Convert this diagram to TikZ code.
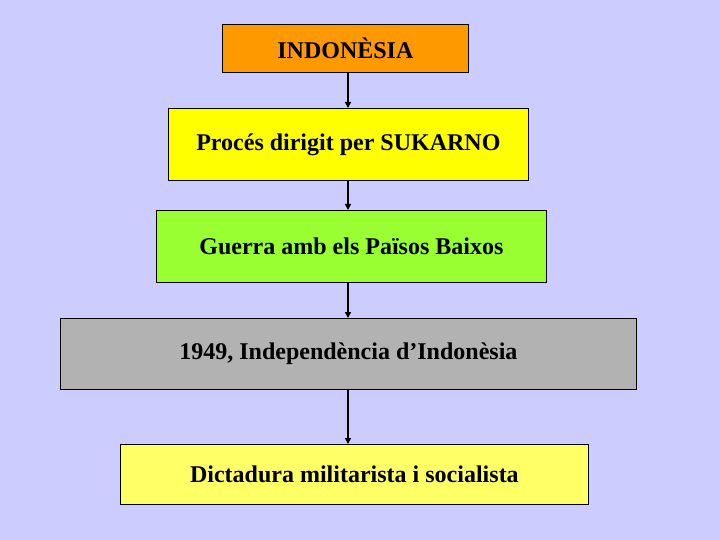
\documentclass[tikz,border=0pt]{standalone}
\usepackage{fontspec}
\setmainfont{Liberation Serif}
\usetikzlibrary{arrows.meta}
\definecolor{bgc}{HTML}{CCCCFF}
\definecolor{c1}{HTML}{FF9900}
\definecolor{c2}{HTML}{FFFF00}
\definecolor{c3}{HTML}{99FF33}
\definecolor{c4}{HTML}{B2B2B2}
\definecolor{c5}{HTML}{FFFF66}
\tikzset{
  boxn/.style={draw=black, line width=0.8pt, inner sep=0pt, anchor=north west,
    font=\fontsize{24}{28}\selectfont\bfseries},
  arr/.style={draw=black, line width=1.5pt, -{Triangle[length=6pt,width=6pt]}}
}
\begin{document}
\begin{tikzpicture}[x=1pt,y=-1pt]
\fill[bgc] (0,0) rectangle (720,540);
\useasboundingbox (0,0) rectangle (720,540);
\coordinate (ax) at (348,0);
\node[boxn, fill=c1, minimum width=246pt, minimum height=48pt] (n1) at (222,24) {INDONÈSIA};
\node[boxn, fill=c2, minimum width=360pt, minimum height=72pt] (n2) at (168,108) {Procés dirigit per SUKARNO};
\node[boxn, fill=c3, minimum width=390pt, minimum height=72pt] (n3) at (156,210) {Guerra amb els Països Baixos};
\node[boxn, fill=c4, minimum width=576pt, minimum height=71pt] (n4) at (60,318) {1949, Independència d’Indonèsia};
\node[boxn, fill=c5, minimum width=468pt, minimum height=60pt] (n5) at (120,444) {Dictadura militarista i socialista};
\draw[arr] (n1.south -| ax) -- (n2.north -| ax);
\draw[arr] (n2.south -| ax) -- (n3.north -| ax);
\draw[arr] (n3.south -| ax) -- (n4.north -| ax);
\draw[arr] (n4.south -| ax) -- (n5.north -| ax);
\end{tikzpicture}
\end{document}
